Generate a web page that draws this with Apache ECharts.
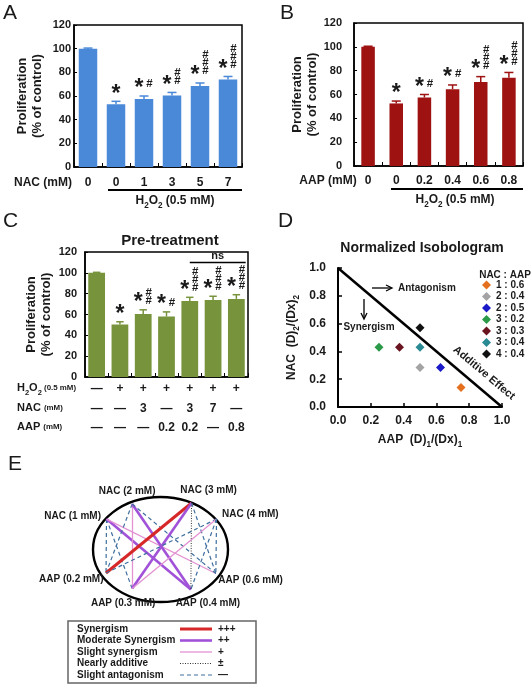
<!DOCTYPE html>
<html><head><meta charset="utf-8">
<script src="https://cdn.jsdelivr.net/npm/echarts@6.0.0/dist/echarts.min.js"></script>
<style>html,body{margin:0;padding:0;background:#fff}#c{width:531px;height:685px}</style>
</head><body><div id="c"></div><script>
// ---------- DATA ----------
const catsA = ['0', '0', '1', '3', '5', '7'];
const valsA = [100, 53, 57.5, 60.5, 68.5, 74];
const errA = [0.5, 2.5, 2.5, 2.5, 2.5, 2.5];
const starsA = [0, 1, 1, 1, 1, 1];
const hashA = [0, 0, 1, 2, 3, 3];

const catsB = ['0', '0', '0.2', '0.4', '0.6', '0.8'];
const valsB = [100, 52.5, 57.5, 64.5, 70.5, 74];
const errB = [0.5, 2, 2.5, 3.5, 4.5, 4.5];
const starsB = [0, 1, 1, 1, 1, 1];
const hashB = [0, 0, 1, 1, 3, 3];

const rowH2O2 = ['—', '+', '+', '+', '+', '+', '+'];
const rowNAC = ['—', '—', '3', '—', '3', '7', '—'];
const rowAAP = ['—', '—', '—', '0.2', '0.2', '—', '0.8'];
const valsC = [100, 50.5, 60.5, 58, 73, 74, 75];
const errC = [0.5, 2.5, 4, 4.5, 3.5, 3.5, 4];
const starsC = [0, 1, 1, 1, 1, 1, 1];
const hashC = [0, 0, 2, 1, 3, 3, 3];
const nsBracket = [[4, 6, 110]];

const yTickMin = 0, yTickMax = 120, yTickStep = 20;

const isoRatios = ['1 : 0.6', '2 : 0.4', '2 : 0.5', '3 : 0.2', '3 : 0.3', '3 : 0.4', '4 : 0.4'];
const isoX = [0.75, 0.5, 0.625, 0.25, 0.375, 0.5, 0.5];
const isoY = [0.14, 0.285, 0.285, 0.43, 0.43, 0.43, 0.57];
const additiveLine = [[0, 1], [1, 0]];

const netNodes = ['NAC (1 mM)', 'NAC (2 mM)', 'NAC (3 mM)', 'NAC (4 mM)', 'AAP (0.2 mM)', 'AAP (0.3 mM)', 'AAP (0.4 mM)', 'AAP (0.6 mM)'];
const netX = [-0.80, -0.42, 0.46, 0.83, -0.807, -0.42, 0.45, 0.82];
const netY = [0.58, 0.867, 0.886, 0.58, -0.448, -0.743, -0.762, -0.457];
const netLinks = [
  ['NAC (1 mM)', 'AAP (0.2 mM)', 'antag'], ['NAC (1 mM)', 'AAP (0.3 mM)', 'antag'],
  ['NAC (1 mM)', 'AAP (0.4 mM)', 'moderate'], ['NAC (1 mM)', 'AAP (0.6 mM)', 'slight'],
  ['NAC (2 mM)', 'AAP (0.2 mM)', 'antag'], ['NAC (2 mM)', 'AAP (0.3 mM)', 'slight'],
  ['NAC (2 mM)', 'AAP (0.4 mM)', 'moderate'], ['NAC (2 mM)', 'AAP (0.6 mM)', 'antag'],
  ['NAC (3 mM)', 'AAP (0.2 mM)', 'syn'], ['NAC (3 mM)', 'AAP (0.3 mM)', 'moderate'],
  ['NAC (3 mM)', 'AAP (0.4 mM)', 'additive'], ['NAC (3 mM)', 'AAP (0.6 mM)', 'antag'],
  ['NAC (4 mM)', 'AAP (0.2 mM)', 'antag'], ['NAC (4 mM)', 'AAP (0.3 mM)', 'slight'],
  ['NAC (4 mM)', 'AAP (0.4 mM)', 'antag'], ['NAC (4 mM)', 'AAP (0.6 mM)', 'antag']
];
const netLegendNames = ['Synergism', 'Moderate Synergism', 'Slight synergism', 'Nearly additive', 'Slight antagonism'];
const netLegendKeys = ['syn', 'moderate', 'slight', 'additive', 'antag'];
const netLegendSymbols = ['+++', '++', '+', '±', '—'];

// ---------- STYLE ----------
const FF = '"Liberation Sans", Arial, sans-serif';
const TXT = '#1a1a1a';
const colA = '#4a88d8', colB = '#9e1212', colC = '#77933c';
const isoColors = ['#e4701e', '#a3a3a3', '#1a1ac8', '#2a9a48', '#6a1420', '#2a8a94', '#111111'];
const linkStyle = {
  syn: { color: '#d62828', width: 3, type: 'solid' },
  moderate: { color: '#a152d8', width: 2.6, type: 'solid' },
  slight: { color: '#e392d2', width: 1.3, type: 'solid' },
  additive: { color: '#333333', width: 1, type: [1, 1.5] },
  antag: { color: '#3f6f9e', width: 1.2, type: [4, 3] }
};

const richSub = (fs) => ({
  a: { fontSize: fs, fontWeight: 'bold', fontFamily: FF, color: TXT, lineHeight: fs + 6, verticalAlign: 'middle' },
  s: { fontSize: fs * 0.68, fontWeight: 'bold', fontFamily: FF, color: TXT, lineHeight: fs * 0.68, verticalAlign: 'bottom' },
  m: { fontSize: fs * 0.72, fontWeight: 'bold', fontFamily: FF, color: TXT, lineHeight: fs + 6, verticalAlign: 'middle' }
});

function annotRender(color, hashBase) {
  return function (params, api) {
    const x = api.value(0), v = api.value(1), e = api.value(2), st = api.value(3), nh = api.value(4);
    const pb = api.coord([x, v]);
    const pt = api.coord([x, v + e]);
    const bw = api.size([1, 0])[0];
    const cap = bw * 0.16;
    const ch = [
      { type: 'line', shape: { x1: pt[0], y1: pb[1], x2: pt[0], y2: pt[1] }, style: { stroke: color, lineWidth: 1.5 } },
      { type: 'line', shape: { x1: pt[0] - cap, y1: pt[1], x2: pt[0] + cap, y2: pt[1] }, style: { stroke: color, lineWidth: 1.5 } }
    ];
    const sx = nh > 0 ? pt[0] - 5 : pt[0];
    if (st) ch.push({ type: 'text', style: { text: '*', x: sx, y: pt[1] - 7, fontSize: 23, fontWeight: 'bold', fontFamily: FF, fill: TXT, align: 'center', verticalAlign: 'middle' } });
    for (let k = 0; k < nh; k++) {
      ch.push({ type: 'text', style: { text: '#', x: pt[0] + 5.5, y: pt[1] - hashBase - 8 * k, fontSize: 11.5, fontWeight: 'bold', fontFamily: FF, fill: TXT, align: 'center', verticalAlign: 'middle' } });
    }
    return { type: 'group', children: ch };
  };
}

function barY(gi, gap, margin) {
  return {
    type: 'value', gridIndex: gi, min: yTickMin, max: yTickMax, interval: yTickStep,
    axisLine: { show: true, lineStyle: { color: '#000', width: 1.5 } },
    axisTick: { show: true, inside: true, length: 3, lineStyle: { color: '#000' } },
    splitLine: { show: false },
    axisLabel: { color: TXT, fontSize: 11, fontWeight: 'bold', fontFamily: FF, margin: margin },
    name: 'Proliferation\n(% of control)', nameLocation: 'middle', nameRotate: 90, nameGap: gap,
    nameTextStyle: { color: TXT, fontSize: 13, fontWeight: 'bold', fontFamily: FF, lineHeight: 15 }
  };
}
function barX(gi, cats, margin) {
  return {
    type: 'category', gridIndex: gi, data: cats.map((c, i) => 'k' + i),
    axisLine: { lineStyle: { color: '#000', width: 1.5 } },
    axisTick: { show: true, inside: true, length: 4, lineStyle: { color: '#000' } },
    axisLabel: { interval: 0, margin: margin, color: TXT, fontSize: 12, fontWeight: 'bold', fontFamily: FF, formatter: (v, i) => cats[i] }
  };
}
function rowX(gi, cats, offset) {
  return {
    type: 'category', gridIndex: gi, data: cats.map((c, i) => 'r' + i), position: 'bottom', offset: offset,
    axisLine: { show: false }, axisTick: { show: false },
    axisLabel: { interval: 0, margin: 6, color: TXT, fontSize: 12, fontWeight: 'bold', fontFamily: FF, formatter: (v, i) => cats[i] }
  };
}
const annData = (vals, errs, stars, hashes) => vals.map((v, i) => [i, v, errs[i], stars[i], hashes[i]]);

const gridBox = { show: true, borderColor: '#000', borderWidth: 1.5, backgroundColor: 'transparent' };

// graphic helpers
const T = (text, x, y, o) => ({ type: 'text', x: x, y: y, style: Object.assign({ text: text, fill: TXT, fontSize: 12, fontWeight: 'bold', fontFamily: FF, align: 'left', verticalAlign: 'middle' }, o || {}) });
const L = (x1, y1, x2, y2, o) => ({ type: 'line', shape: { x1, y1, x2, y2 }, style: Object.assign({ stroke: '#000', lineWidth: 2 }, o || {}) });

const additiveText = T('Additive Effect', 484, 373, { align: 'center', fontSize: 11 });
additiveText.rotation = -0.70;

const graphics = [
  T('A', 3, 13, { fontSize: 21, fontWeight: 'normal' }),
  T('B', 280, 13, { fontSize: 21, fontWeight: 'normal' }),
  T('C', 3, 221, { fontSize: 21, fontWeight: 'normal' }),
  T('D', 278, 221, { fontSize: 21, fontWeight: 'normal' }),
  T('E', 8, 464, { fontSize: 21, fontWeight: 'normal' }),
  T('NAC (mM)', 43, 183, { align: 'center' }),
  T('AAP (mM)', 328, 181, { align: 'center' }),
  L(108, 190, 242, 190),
  L(391, 189, 523, 189),
  T('{a|H}{s|2}{a|O}{s|2}{a| (0.5 mM)}', 175, 201, { align: 'center', rich: richSub(12) }),
  T('{a|H}{s|2}{a|O}{s|2}{a| (0.5 mM)}', 455, 200, { align: 'center', rich: richSub(12) }),
  T('Pre-treatment', 170, 241, { align: 'center', fontSize: 15 }),
  T('{a|H}{s|2}{a|O}{s|2}{m| (0.5 mM)}', 17, 388, { rich: richSub(11) }),
  T('{a|NAC }{m|(mM)}', 17, 408, { rich: richSub(11) }),
  T('{a|AAP }{m|(mM)}', 17, 427, { rich: richSub(11) }),
  T('Normalized Isobologram', 422, 248, { align: 'center', fontSize: 14 }),
  T('NAC : AAP', 505, 275, { align: 'center', fontSize: 10 }),
  T('Antagonism', 398, 288, { fontSize: 10 }),
  L(372, 288, 391, 288, { lineWidth: 1.3 }),
  { type: 'polyline', shape: { points: [[386, 285], [392, 288], [386, 291]] }, style: { stroke: '#000', lineWidth: 1.3, fill: 'none' } },
  T('Synergism', 369, 327, { align: 'center', fontSize: 10 }),
  L(364, 299, 364, 318, { lineWidth: 1.3 }),
  { type: 'polyline', shape: { points: [[361, 313], [364, 319], [367, 313]] }, style: { stroke: '#000', lineWidth: 1.3, fill: 'none' } },
  additiveText,
  { type: 'rect', shape: { x: 68, y: 621, width: 188, height: 62 }, style: { fill: '#fff', stroke: '#666', lineWidth: 1.5 }, z: 0 }
];
netLegendNames.forEach((n, i) => {
  const y = 629 + i * 11.5;
  const s = linkStyle[netLegendKeys[i]];
  graphics.push(T(n, 77, y, { fontSize: 10 }));
  graphics.push(L(180, y, 212, y, { stroke: s.color, lineWidth: s.width, lineDash: Array.isArray(s.type) ? s.type : null }));
  graphics.push(T(netLegendSymbols[i], 218, y, { fontSize: 10 }));
});

const option = {
  animation: false,
  backgroundColor: '#fff',
  grid: [
    Object.assign({ left: 74, top: 25, width: 168, height: 142 }, gridBox),
    Object.assign({ left: 354, top: 23, width: 169, height: 143 }, gridBox),
    Object.assign({ left: 85, top: 252, width: 163, height: 125 }, gridBox),
    { left: 338, top: 268, width: 164, height: 139 },
    { left: 93, top: 497, width: 135, height: 105 }
  ],
  xAxis: [
    barX(0, catsA, 10),
    barX(1, catsB, 9),
    Object.assign(rowX(2, rowH2O2, 0), { axisLine: { lineStyle: { color: '#000', width: 1.5 } }, axisTick: { show: true, inside: true, length: 4, lineStyle: { color: '#000' } } }),
    rowX(2, rowNAC, 20),
    rowX(2, rowAAP, 39),
    {
      type: 'value', gridIndex: 3, min: 0, max: 1, interval: 0.2,
      axisLine: { show: true, lineStyle: { color: '#000', width: 2 } },
      axisTick: { show: true, inside: true, length: 4, lineStyle: { color: '#000', width: 1.5 } },
      splitLine: { show: false },
      axisLabel: { formatter: v => v.toFixed(1), fontSize: 12, fontWeight: 'bold', fontFamily: FF, color: TXT, margin: 8 },
      name: '{a|AAP  (D)}{s|1}{a|/(Dx)}{s|1}', nameLocation: 'middle', nameGap: 24,
      nameTextStyle: { rich: richSub(12) }
    },
    { type: 'value', gridIndex: 4, min: -1, max: 1, show: false }
  ],
  yAxis: [
    barY(0, 29, 3),
    barY(1, 34, 12),
    barY(2, 31, 8),
    {
      type: 'value', gridIndex: 3, min: 0, max: 1, interval: 0.2,
      axisLine: { show: true, lineStyle: { color: '#000', width: 2 } },
      axisTick: { show: true, inside: true, length: 4, lineStyle: { color: '#000', width: 1.5 } },
      splitLine: { show: false },
      axisLabel: { formatter: v => v.toFixed(1), fontSize: 12, fontWeight: 'bold', fontFamily: FF, color: TXT, margin: 12 },
      name: '{a|NAC  (D)}{s|2}{a|/(Dx)}{s|2}', nameLocation: 'middle', nameRotate: 90, nameGap: 37,
      nameTextStyle: { rich: richSub(12) }
    },
    { type: 'value', gridIndex: 4, min: -1, max: 1, show: false }
  ],
  legend: {
    data: isoRatios, orient: 'vertical', left: 482, top: 280, itemWidth: 9, itemHeight: 9, itemGap: 1.5, padding: 0,
    textStyle: { fontSize: 10, fontWeight: 'bold', fontFamily: FF, color: TXT }, selectedMode: false
  },
  graphic: graphics,
  series: [
    { type: 'bar', xAxisIndex: 0, yAxisIndex: 0, data: valsA, barWidth: '66%', itemStyle: { color: colA } },
    { type: 'custom', xAxisIndex: 0, yAxisIndex: 0, data: annData(valsA, errA, starsA, hashA), renderItem: annotRender(colA, 12), z: 5 },
    { type: 'bar', xAxisIndex: 1, yAxisIndex: 1, data: valsB, barWidth: '48%', itemStyle: { color: colB } },
    { type: 'custom', xAxisIndex: 1, yAxisIndex: 1, data: annData(valsB, errB, starsB, hashB), renderItem: annotRender(colB, 11), z: 5 },
    { type: 'bar', xAxisIndex: 2, yAxisIndex: 2, data: valsC, barWidth: '72%', itemStyle: { color: colC } },
    { type: 'custom', xAxisIndex: 2, yAxisIndex: 2, data: annData(valsC, errC, starsC, hashC), renderItem: annotRender(colC, 9), z: 5 },
    {
      type: 'custom', xAxisIndex: 2, yAxisIndex: 2, data: nsBracket, z: 5,
      renderItem: function (params, api) {
        const p1 = api.coord([api.value(0), api.value(2)]);
        const p2 = api.coord([api.value(1), api.value(2)]);
        const bw = api.size([1, 0])[0];
        const x2 = p2[0] + bw * 0.4;
        return {
          type: 'group', children: [
            { type: 'line', shape: { x1: p1[0], y1: p1[1], x2: x2, y2: p1[1] }, style: { stroke: '#000', lineWidth: 1.5 } },
            { type: 'text', style: { text: 'ns', x: (p1[0] + x2) / 2, y: p1[1] - 6, fontSize: 11, fontWeight: 'bold', fontFamily: FF, fill: TXT, align: 'center', verticalAlign: 'middle' } }
          ]
        };
      }
    },
    {
      type: 'line', xAxisIndex: 5, yAxisIndex: 3, data: additiveLine, symbol: 'none',
      lineStyle: { color: '#000', width: 2.5 }, silent: true
    }
  ].concat(isoRatios.map((r, i) => ({
    type: 'scatter', name: r, xAxisIndex: 5, yAxisIndex: 3, symbol: 'diamond', symbolSize: 9,
    data: [[isoX[i], isoY[i]]], itemStyle: { color: isoColors[i], opacity: 1 }
  }))).concat([
    {
      type: 'custom', xAxisIndex: 6, yAxisIndex: 4, data: [[0, 0]], z: 1,
      renderItem: function (params, api) {
        const c = api.coord([api.value(0), api.value(1)]);
        const s = api.size([1, 1]);
        return { type: 'ellipse', shape: { cx: c[0], cy: c[1], rx: s[0], ry: s[1] }, style: { fill: 'none', stroke: '#000', lineWidth: 2.4 } };
      }
    },
    {
      type: 'graph', coordinateSystem: 'cartesian2d', xAxisIndex: 6, yAxisIndex: 4, z: 3,
      symbolSize: 1, itemStyle: { color: 'rgba(0,0,0,0)' },
      label: { show: true, formatter: '{b}', fontSize: 10, fontWeight: 'bold', fontFamily: FF, color: TXT },
      data: netNodes.map((n, i) => {
        const pos = [['left', [0, -3]], ['top', [-5, -2]], ['top', [17, -2]], ['right', [0, -5]],
                     ['left', [3, 6]], ['bottom', [-9, 4]], ['bottom', [17, 3]], ['right', [-3, 7]]][i];
        return { name: n, value: [netX[i], netY[i]], label: { position: pos[0], offset: pos[1] } };
      }),
      links: netLinks.map(l => ({ source: l[0], target: l[1], lineStyle: { color: linkStyle[l[2]].color, width: linkStyle[l[2]].width, type: linkStyle[l[2]].type, opacity: 1, curveness: 0 } })),
      lineStyle: { opacity: 1 }
    }
  ])
};
const chart = echarts.init(document.getElementById('c'));
chart.setOption(option);
</script></body></html>
